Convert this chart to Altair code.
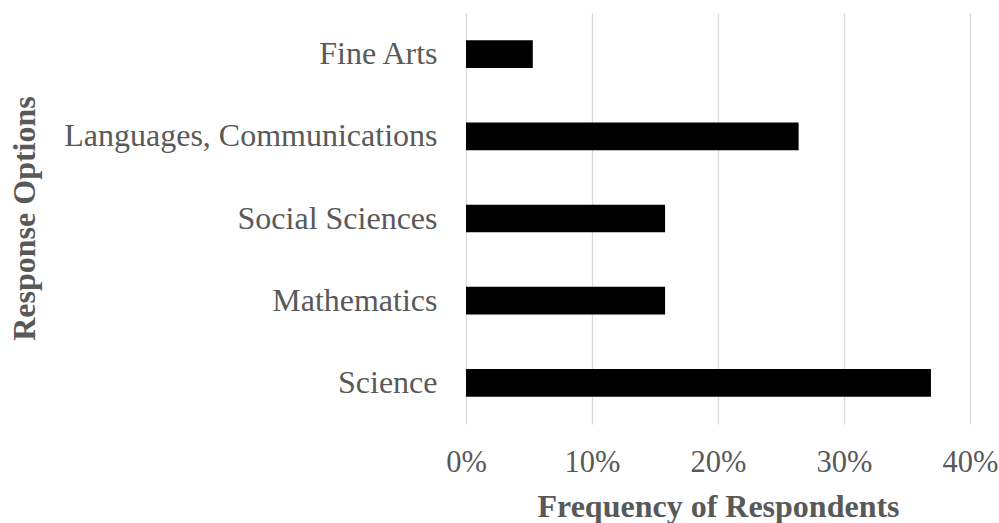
import altair as alt
import pandas as pd

categories = ["Fine Arts", "Languages, Communications", "Social Sciences", "Mathematics", "Science"]
values = [0.053, 0.264, 0.158, 0.158, 0.369]
tick_values = [0.0, 0.1, 0.2, 0.3, 0.4]

df = pd.DataFrame({"option": categories, "freq": values})

FONT = "Liberation Serif"
GRAY = "#595959"

chart = alt.Chart(df).mark_bar(color="black").encode(
    y=alt.Y(
        "option:N",
        sort=categories,
        scale=alt.Scale(paddingInner=0.663, paddingOuter=0.3315),
        axis=alt.Axis(
            title="Response Options",
            titleFont=FONT, titleFontSize=32, titleFontWeight="bold", titleColor=GRAY,
            titleAngle=270, titleAlign="center", titleBaseline="alphabetic",
            titleX=-432, titleY=205,
            labelFont=FONT, labelFontSize=32, labelColor=GRAY, labelPadding=29,
            labelLimit=600,
            grid=False, domain=False, ticks=False, tickSize=0,
        ),
    ),
    x=alt.X(
        "freq:Q",
        scale=alt.Scale(domain=[0, 0.4], nice=False),
        axis=alt.Axis(
            title="Frequency of Respondents",
            titleFont=FONT, titleFontSize=32, titleFontWeight="bold", titleColor=GRAY,
            titleBaseline="alphabetic", titleY=92,
            format=".0%", values=tick_values, labelFlush=False,
            labelFont=FONT, labelFontSize=30.5, labelColor=GRAY, labelPadding=23,
            grid=True, gridColor="#d9d9d9", gridWidth=1.3,
            domain=False, ticks=False, tickSize=0,
        ),
    ),
).properties(
    width=504,
    height=411,
    autosize=alt.AutoSizeParams(type="none"),
    padding={"left": 466, "top": 13, "right": 29, "bottom": 99},
    background="white",
).configure_view(strokeWidth=0)

chart.save("out.html", embed_options={"renderer": "svg", "actions": False})
